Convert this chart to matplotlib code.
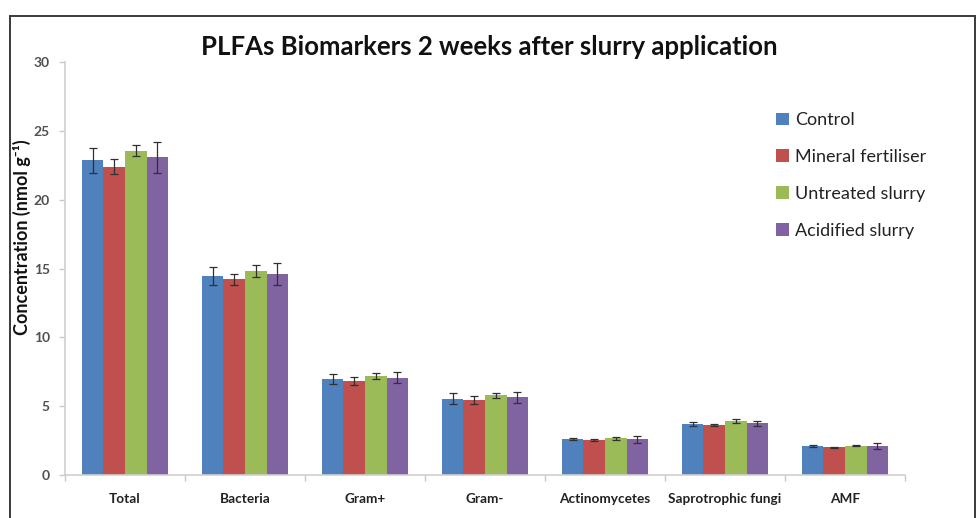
import matplotlib
matplotlib.use("Agg")
import matplotlib.pyplot as plt
import numpy as np
from matplotlib.patches import Rectangle

categories = ["Total", "Bacteria", "Gram+", "Gram-", "Actinomycetes",
              "Saprotrophic fungi", "AMF"]
series_names = ["Control", "Mineral fertiliser", "Untreated slurry", "Acidified slurry"]

control = [22.85, 14.45, 6.97, 5.54, 2.61, 3.72, 2.10]
mineral = [22.39, 14.21, 6.83, 5.45, 2.54, 3.65, 2.01]
untreated = [23.55, 14.84, 7.19, 5.79, 2.66, 3.92, 2.13]
acidified = [23.07, 14.60, 7.07, 5.64, 2.60, 3.76, 2.09]

control_err = [0.90, 0.68, 0.36, 0.39, 0.10, 0.14, 0.10]
mineral_err = [0.55, 0.39, 0.31, 0.29, 0.07, 0.07, 0.06]
untreated_err = [0.40, 0.43, 0.19, 0.19, 0.10, 0.17, 0.05]
acidified_err = [1.10, 0.77, 0.39, 0.39, 0.25, 0.17, 0.20]

yticks = [0, 5, 10, 15, 20, 25, 30]

colors = ["#4F81BD", "#C0504D", "#9BBB59", "#8064A2"]
FONT = ["Lato", "DejaVu Sans"]
plt.rcParams["font.family"] = FONT

W, H = 976, 518
fig = plt.figure(figsize=(W / 100, H / 100), dpi=100)

# outer frame of the chart area
fig.add_artist(Rectangle((10 / W, -0.1), (975 - 10) / W, 1.1 - 16 / H,
                         transform=fig.transFigure, fill=False,
                         edgecolor="#3a3a3a", linewidth=1.4))

ax = fig.add_axes([65 / W, 1 - 475 / H, (905 - 65) / W, (475 - 62) / H])

values = [control, mineral, untreated, acidified]
errors = [control_err, mineral_err, untreated_err, acidified_err]
x = np.arange(len(categories))
bw = 0.18
for i, (vals, errs, c, name) in enumerate(zip(values, errors, colors, series_names)):
    pos = x + (i - 1.5) * bw
    ax.bar(pos, vals, width=bw, color=c, label=name, zorder=2)
    ax.errorbar(pos, vals, yerr=errs, fmt="none", ecolor="#303030",
                elinewidth=0.9, capsize=3, capthick=0.9, zorder=3)

ax.set_xlim(-0.5, len(categories) - 0.5)
ax.set_ylim(0, 30)
ax.set_yticks(yticks)
ax.set_yticklabels([str(t) for t in yticks], fontsize=10, fontweight="bold",
                   color="#505050")
ax.set_xticks(x)
ax.set_xticklabels(categories, fontsize=9.8, fontweight="bold", color="#222222")
ax.set_xticks(np.arange(len(categories) + 1) - 0.5, minor=True)
ax.tick_params(axis="x", which="major", length=0, pad=13)
ax.tick_params(axis="x", which="minor", length=4, color="#c8c8c8", width=1)
ax.tick_params(axis="y", length=4, color="#c8c8c8", width=1, pad=7)

for s in ["top", "right"]:
    ax.spines[s].set_visible(False)
ax.spines["left"].set_color("#d0d0d0")
ax.spines["bottom"].set_color("#d0d0d0")
ax.spines["left"].set_linewidth(1.2)
ax.spines["bottom"].set_linewidth(1.2)

ax.set_ylabel("Concentration (nmol g\u207b\u00b9)", fontsize=13, fontweight="bold",
              color="#111111")
ax.yaxis.set_label_coords(-0.040, 0.575)

fig.text(489 / W, 1 - 47 / H, "PLFAs Biomarkers 2 weeks after slurry application",
         ha="center", va="center", fontsize=18.5, fontweight="bold", color="#111111")

leg = ax.legend(loc="upper left", bbox_to_anchor=((769 - 65) / (905 - 65), 1.0 - (105 - 62) / 413),
                frameon=False, fontsize=13, handlelength=0.7, handleheight=0.7,
                handletextpad=0.35, labelspacing=1.15, borderaxespad=0)
for t in leg.get_texts():
    t.set_color("#222222")

fig.savefig("out.png", dpi=100)
